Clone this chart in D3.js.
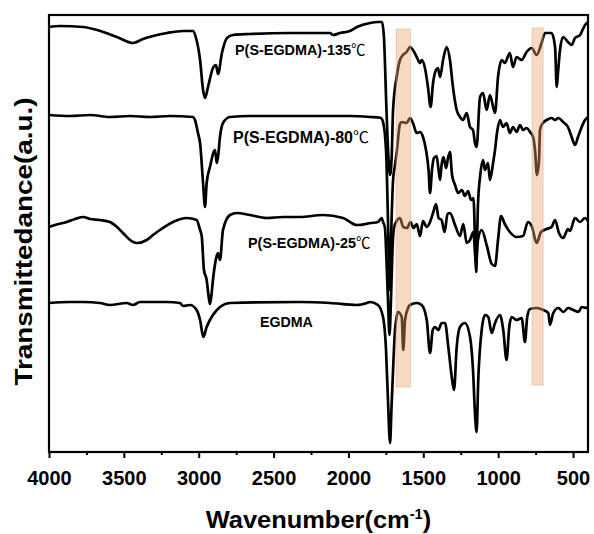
<!DOCTYPE html>
<html>
<head>
<meta charset="utf-8">
<script src="https://cdn.jsdelivr.net/npm/d3@7/dist/d3.min.js"></script>
<style>
  body { margin: 0; background: #fff; }
  text { font-family: Arial, "Liberation Sans", sans-serif; font-weight: bold; fill: #000; }
</style>
</head>
<body>
<svg id="chart" width="594" height="534"></svg>
<script>
// FTIR spectra, offset vertically, transmittance in arbitrary units
const wn135 = [4000,3927,3773,3679,3546,3439,3372,3212,3105,3038,3018,2991,2971,2958,2938,2905,2885,2871,2845,2811,2771,2658,2390,2210,2123,2103,2056,1990,1943,1856,1803,1776,1763,1746,1732,1722,1711,1702,1678,1656,1636,1611,1589,1569,1544,1522,1511,1489,1469,1451,1435,1415,1402,1388,1368,1344,1322,1302,1277,1255,1235,1210,1188,1168,1155,1144,1121,1101,1077,1055,1021,1001,976,956,922,901,877,843,810,776,743,710,687,643,620,609,600,587,567,534,509,487,453,420,400];
const t135 = [42.5,42.6,42.5,42.2,41.5,40.9,41.3,41.9,42.1,42.1,41.4,39.2,36.2,35.4,36.5,38.4,38.7,37.8,39.9,41.4,41.7,41.8,41.9,41.9,41.9,41.7,41.9,42.1,42.5,42.9,43.0,43.0,41.5,34.2,29.2,27.7,29.6,34.2,37.5,39.2,39.7,40.0,40.5,40.2,39.5,38.9,39.2,38.4,36.5,34.5,36.9,38.2,38.4,37.5,39.2,40.5,39.2,36.5,34.2,33.5,33.2,33.9,32.5,32.2,30.9,30.5,35.5,35.9,34.2,35.7,33.9,37.5,39.2,38.9,39.9,38.5,39.5,39.2,40.0,40.4,39.7,40.9,41.9,41.9,40.5,36.5,38.0,40.2,41.5,41.0,40.7,41.4,41.7,42.7,43.0];

const wn80 = [4000,3860,3726,3593,3459,3325,3192,3038,3025,3005,2991,2971,2958,2947,2925,2891,2880,2871,2858,2838,2791,2658,2324,1990,1856,1783,1769,1749,1736,1726,1716,1702,1689,1676,1656,1644,1611,1589,1569,1544,1522,1502,1482,1465,1455,1442,1429,1411,1398,1388,1378,1365,1348,1335,1322,1308,1288,1268,1242,1222,1201,1181,1165,1147,1135,1121,1101,1088,1068,1055,1034,1021,1008,988,968,944,922,901,877,854,834,810,787,767,754,741,727,721,701,676,643,620,598,567,534,509,487,467,442,420,400];
const t80 = [33.7,33.6,33.7,33.5,33.6,33.5,33.6,33.5,33.2,31.9,30.9,26.9,24.5,26.9,28.5,30.2,28.9,29.5,31.5,32.9,33.5,33.6,33.6,33.6,33.5,33.4,33.0,30.2,23.2,16.2,21.2,27.2,28.7,30.2,32.8,33.0,32.9,33.4,32.9,31.9,32.0,31.5,30.2,28.2,25.9,28.2,29.4,29.6,28.2,27.2,28.7,29.5,28.4,29.4,30.0,27.7,26.7,25.9,26.2,25.6,26.1,25.2,25.4,18.0,24.7,27.5,29.2,28.2,28.9,27.2,28.9,30.2,31.9,33.2,32.5,32.9,31.9,32.5,32.0,32.7,32.2,32.4,32.0,31.5,30.2,27.7,29.2,32.2,32.9,33.2,33.4,33.2,33.4,33.0,32.5,31.5,30.7,31.5,32.5,33.2,33.5];

const wn25 = [4000,3960,3882,3826,3771,3726,3659,3593,3546,3506,3459,3414,3347,3305,3259,3172,3080,3014,2991,2980,2965,2947,2935,2925,2915,2905,2880,2871,2858,2838,2791,2746,2658,2546,2437,2324,2170,2036,1943,1849,1803,1778,1769,1756,1746,1736,1726,1716,1706,1696,1678,1656,1634,1609,1586,1565,1544,1522,1502,1477,1455,1435,1415,1398,1378,1358,1338,1322,1288,1255,1233,1210,1188,1166,1148,1135,1110,1077,1043,1021,1001,981,956,922,877,834,801,776,743,714,676,643,620,594,565,534,520,487,453,420,400];
const t25 = [22.5,22.7,23.0,23.3,23.5,23.3,23.2,23.0,22.5,21.9,21.2,20.9,21.2,21.7,22.2,23.0,23.4,23.2,22.2,21.6,18.2,17.2,15.7,14.8,15.7,17.2,19.6,19.9,19.2,22.2,23.7,23.9,23.7,23.4,23.5,23.5,23.7,23.4,22.7,22.9,23.0,23.4,23.0,22.4,19.2,15.2,11.7,15.2,20.2,22.4,23.1,23.4,22.5,22.4,23.0,22.4,22.8,21.6,23.1,22.5,23.0,23.9,24.8,23.4,23.2,22.0,23.8,23.9,22.7,21.6,22.8,20.9,21.2,22.0,19.0,21.2,22.2,20.7,18.8,18.6,21.2,23.6,22.8,22.0,21.5,21.6,23.0,22.6,20.9,22.0,22.3,22.5,23.2,21.9,21.4,22.3,22.1,23.4,23.0,23.4,23.1];

const wnEG = [4000,3860,3773,3659,3593,3481,3439,3392,3214,3125,3105,3058,3014,2991,2969,2947,2925,2905,2858,2791,2324,2123,1943,1876,1856,1803,1769,1749,1736,1722,1713,1702,1689,1669,1644,1634,1622,1602,1589,1544,1511,1477,1455,1437,1422,1400,1377,1355,1333,1310,1295,1277,1255,1222,1188,1168,1155,1144,1133,1110,1088,1066,1043,1021,988,966,944,926,910,877,843,821,806,787,743,699,665,654,632,598,565,532,498,464,442,409,400];
const tEG = [14.9,15.0,15.0,14.9,14.7,14.9,14.7,15.0,15.0,14.9,14.6,14.7,14.2,13.2,11.5,12.5,13.2,13.7,14.5,14.9,15.0,14.9,14.7,14.9,15.0,14.7,13.5,10.2,5.2,0.9,4.2,8.2,12.2,14.0,13.5,10.2,13.2,14.4,14.7,14.9,14.7,13.2,9.9,12.2,12.5,12.2,12.9,12.9,10.5,7.5,6.2,10.5,12.5,12.9,11.5,8.2,3.9,2.0,7.2,12.2,13.7,13.5,11.9,12.9,13.7,12.2,9.2,12.5,13.5,13.2,13.4,11.0,13.5,14.3,14.4,14.2,13.9,12.7,13.9,14.4,14.0,14.4,14.2,14.0,14.5,14.4,14.5];

const seriesNames = ["P(S-EGDMA)-135", "P(S-EGDMA)-80", "P(S-EGDMA)-25", "EGDMA"];
const seriesUnits = ["℃", "℃", "℃", ""];

// Highlighted wavenumber bands (C=C stretch and out-of-plane region)
const bandHigh = [1682, 774];
const bandLow = [1584, 700];
const bandTop = [42.3, 42.4];
const bandBottom = [6.5, 6.7];

const majorTicks = [4000, 3500, 3000, 2500, 2000, 1500, 1000, 500];
const minorTicks = [3750, 3250, 2750, 2250, 1750, 1250, 750];

const svg = d3.select("#chart");
const plotL = 49, plotR = 588, plotT = 15, plotB = 452;

const x = d3.scaleLinear().domain([4000, 400]).range([plotL, plotR]);
const y = d3.scaleLinear().domain([0, 43.7]).range([plotB, plotT]);

const series = [
  {wn: wn135, t: t135},
  {wn: wn80, t: t80},
  {wn: wn25, t: t25},
  {wn: wnEG, t: tEG}
];

const line = d3.line()
  .x(d => x(d[0]))
  .y(d => y(d[1]))
  .curve(d3.curveMonotoneX);

svg.append("g").selectAll("path")
  .data(series)
  .join("path")
  .attr("d", s => line(s.wn.map((w, i) => [w, s.t[i]])))
  .attr("fill", "none")
  .attr("stroke", "#000")
  .attr("stroke-width", 2.7)
  .attr("stroke-linejoin", "round");

// translucent bands laid over the spectra
svg.append("g").selectAll("rect")
  .data(bandHigh.map((h, i) => ({h, l: bandLow[i], t: bandTop[i], b: bandBottom[i]})))
  .join("rect")
  .attr("x", d => x(d.h))
  .attr("width", d => x(d.l) - x(d.h))
  .attr("y", d => y(d.t))
  .attr("height", d => y(d.b) - y(d.t))
  .attr("fill", "rgb(238,160,100)")
  .attr("fill-opacity", 0.4)
  .attr("stroke", "rgb(225,170,135)")
  .attr("stroke-opacity", 0.6)
  .attr("stroke-width", 0.8);

// frame
svg.append("rect")
  .attr("x", plotL).attr("y", plotT)
  .attr("width", plotR - plotL).attr("height", plotB - plotT)
  .attr("fill", "none").attr("stroke", "#000").attr("stroke-width", 2.2);

// bottom axis: major ticks with labels, minor ticks without
const axMajor = svg.append("g")
  .attr("transform", `translate(0,${plotB})`)
  .call(d3.axisBottom(x).tickValues(majorTicks).tickSize(6).tickPadding(13).tickFormat(d3.format("d")));
axMajor.select(".domain").remove();
axMajor.selectAll("line").attr("stroke-width", 2);
axMajor.selectAll("text")
  .style("font-size", "20px")
  .style("font-weight", "bold")
  .style("font-family", "Arial, 'Liberation Sans', sans-serif");

const axMinor = svg.append("g")
  .attr("transform", `translate(0,${plotB})`)
  .call(d3.axisBottom(x).tickValues(minorTicks).tickSize(3).tickFormat(""));
axMinor.select(".domain").remove();
axMinor.selectAll("line").attr("stroke-width", 2);

// curve labels
const labelPos = [
  {x: 235, y: 55, size: 14.4},
  {x: 233, y: 143, size: 16},
  {x: 248, y: 247.5, size: 14.4},
  {x: 260, y: 326.5, size: 14.2}
];
const labels = svg.append("g").selectAll("text")
  .data(seriesNames.map((n, i) => ({n, u: seriesUnits[i], p: labelPos[i]})))
  .join("text")
  .attr("x", d => d.p.x)
  .attr("y", d => d.p.y)
  .style("font-size", d => d.p.size + "px");
labels.append("tspan").text(d => d.n);
labels.append("tspan")
  .text(d => d.u)
  .style("font-family", "'Noto Sans CJK SC', sans-serif")
  .style("font-weight", "normal");

// axis titles
const xt = svg.append("text")
  .attr("transform", `translate(${(plotL + plotR) / 2},528) scale(1.06,1)`)
  .attr("text-anchor", "middle")
  .style("font-size", "24px");
xt.append("tspan").text("Wavenumber(cm");
xt.append("tspan").text("-1").attr("dy", -9).style("font-size", "14px");
xt.append("tspan").text(")").attr("dy", 9);

svg.append("text")
  .attr("transform", `translate(32,${(plotT + plotB) / 2 + 8}) rotate(-90)`)
  .attr("text-anchor", "middle")
  .attr("textLength", 288)
  .attr("lengthAdjust", "spacingAndGlyphs")
  .style("font-size", "24px")
  .text("Transmittedance(a.u.)");
</script>
</body>
</html>
